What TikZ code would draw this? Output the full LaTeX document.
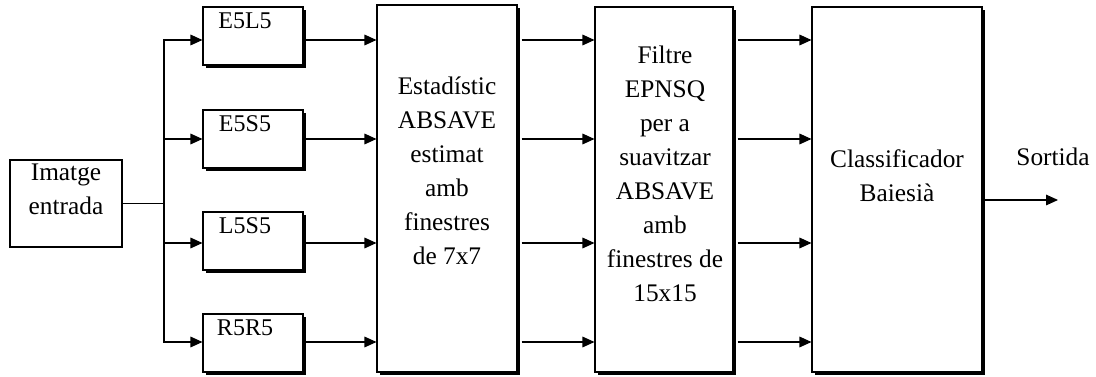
\documentclass[tikz,border=0pt]{standalone}
\usepackage{fontspec}
\setmainfont{Liberation Serif}
\usetikzlibrary{arrows.meta,shadows}
\begin{document}
\begin{tikzpicture}[x=0.75pt,y=-0.75pt,
  txt/.style={font=\fontsize{19pt}{25.5pt}\selectfont, align=center, inner sep=0pt},
  lbl/.style={font=\fontsize{18pt}{25.5pt}\selectfont, inner sep=0pt, anchor=base},
  plain/.style={draw, line width=0.8pt, fill=white, inner sep=0pt},
  shbox/.style={plain, drop shadow={shadow xshift=2.25pt, shadow yshift=-2.25pt, fill=black, opacity=1}},
  smallbox/.style={shbox, minimum width=75pt, minimum height=43.5pt},
  arr/.style={line width=0.8pt, -{Triangle[length=9pt,width=8pt]}},
  ln/.style={line width=0.8pt}]
\useasboundingbox (0,0) rectangle (1096,377);

% input
\node[plain, minimum width=84pt, minimum height=65.25pt] (in) at (66,203.5) {};
\node[txt] (intxt) at (66,189) {Imatge\\entrada};

% small filter boxes
\node[smallbox] (s1) at (253,36) {};
\node[smallbox] (s2) at (253,139) {};
\node[smallbox] (s3) at (253,241) {};
\node[smallbox] (s4) at (253,343) {};
\node[lbl] (t1) at ([xshift=-6pt,yshift=-16.5pt]s1.north) {E5L5};
\node[lbl] (t2) at ([xshift=-6pt,yshift=-16.5pt]s2.north) {E5S5};
\node[lbl] (t3) at ([xshift=-6pt,yshift=-16.5pt]s3.north) {L5S5};
\node[lbl] (t4) at ([xshift=-6pt,yshift=-16.5pt]s4.north) {R5R5};

% big boxes
\node[shbox, minimum width=105pt, minimum height=275.25pt] (b1) at (447,188.5) {};
\node[txt] (b1t) at (447,171) {Estadístic\\ABSAVE\\estimat\\amb\\finestres\\de 7x7};
\node[shbox, minimum width=103.5pt, minimum height=273.75pt] (b2) at (664,189.5) {};
\node[txt] (b2t) at (665,173.5) {Filtre\\EPNSQ\\per a\\suavitzar\\ABSAVE\\amb\\finestres de\\15x15};
\node[shbox, minimum width=127.5pt, minimum height=273.75pt] (b3) at (897,189.5) {};
\node[txt] (b3t) at (897,175.5) {Classificador\\Baiesià};

\node[txt] (sort) at (1053,157) {Sortida};

% coordinates
\coordinate (bus) at (164,203.5);
\coordinate (r1) at (0,40);
\coordinate (r2) at (0,139);
\coordinate (r3) at (0,243);
\coordinate (r4) at (0,342);
\coordinate (out) at (1058,200);

% connectors
\draw[ln] (in.east) -- (bus);
\draw[arr] (bus) |- (s1.west |- r1);
\draw[arr] (bus) |- (s2.west |- r2);
\draw[arr] (bus) |- (s3.west |- r3);
\draw[arr] (bus) |- (s4.west |- r4);

\draw[arr] (s1.east |- r1) -- (b1.west |- r1);
\draw[arr] (s2.east |- r2) -- (b1.west |- r2);
\draw[arr] (s3.east |- r3) -- (b1.west |- r3);
\draw[arr] (s4.east |- r4) -- (b1.west |- r4);

\draw[arr] ([xshift=3pt]b1.east |- r1) -- (b2.west |- r1);
\draw[arr] ([xshift=3pt]b1.east |- r2) -- (b2.west |- r2);
\draw[arr] ([xshift=3pt]b1.east |- r3) -- (b2.west |- r3);
\draw[arr] ([xshift=3pt]b1.east |- r4) -- (b2.west |- r4);

\draw[arr] ([xshift=3pt]b2.east |- r1) -- (b3.west |- r1);
\draw[arr] ([xshift=3pt]b2.east |- r2) -- (b3.west |- r2);
\draw[arr] ([xshift=3pt]b2.east |- r3) -- (b3.west |- r3);
\draw[arr] ([xshift=3pt]b2.east |- r4) -- (b3.west |- r4);

\draw[arr] (b3.east |- out) -- (out);
\end{tikzpicture}
\end{document}
